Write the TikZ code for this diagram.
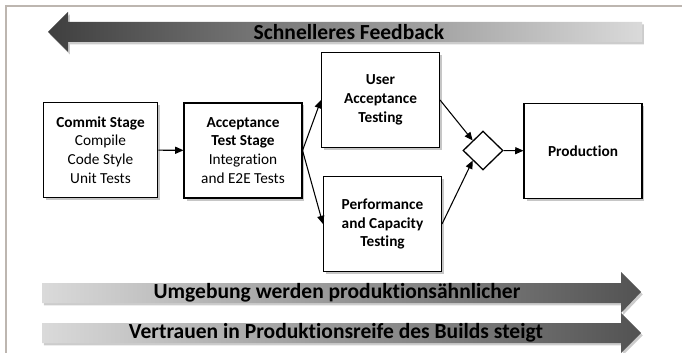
\documentclass[tikz,border=0pt]{standalone}
\usepackage{fontspec}
\setmainfont{Carlito}[Ligatures=NoCommon]
\usepackage{tikz}
\usetikzlibrary{arrows.meta,shapes.geometric,shadows}

\definecolor{framegray}{HTML}{BDB6B0}
\definecolor{arrowdark}{HTML}{3F3F3F}
\definecolor{arrowlight}{HTML}{DADADA}

\tikzset{
  stagebox/.style={draw, line width=1.2pt, fill=white, align=center,
    minimum width=100pt, minimum height=81pt, inner sep=2pt,
    font=\fontsize{13}{16}\selectfont,
    drop shadow={opacity=0.45, shadow xshift=2pt, shadow yshift=-2pt}},
  joinbox/.style={draw, diamond, line width=1.1pt, fill=white, inner sep=0pt,
    minimum width=34pt, minimum height=33pt},
  flow/.style={line width=0.9pt, -{Triangle[length=7pt,width=6pt]}},
  bigarrow/.style={drop shadow={opacity=0.4, shadow xshift=1.5pt, shadow yshift=-2pt}},
  arrowtext/.style={font=\fontsize{18.3}{20}\selectfont\bfseries, inner sep=0pt}
}

\begin{document}
\begin{tikzpicture}[x=0.85pt, y=-0.85pt]
\useasboundingbox (0,0) rectangle (682,353);
% frame
\draw[framegray, line width=1.7pt] (682,6) -- (6,6) -- (6,353);

% big arrows
\shade[bigarrow, left color=arrowdark, right color=arrowlight]
(48,32) -- (68,12) -- (68,22) -- (642,22) -- (642,42) -- (68,42) -- (68,52) -- cycle;
\shade[bigarrow, left color=arrowlight, right color=arrowdark!90]
(42,283) -- (621,283) -- (621,272) -- (641,292) -- (621,313) -- (621,303) -- (42,303) -- cycle;
\shade[bigarrow, left color=arrowlight, right color=arrowdark!90]
(42,323) -- (621,323) -- (621,313) -- (641,333) -- (621,353) -- (621,343) -- (42,343) -- cycle;
\node[arrowtext] (feedback) at (349,32) {Schnelleres Feedback};
\node[arrowtext] (umgebung) at (337,293) {Umgebung werden produktionsähnlicher};
\node[arrowtext] (vertrauen) at (336,333) {Vertrauen in Produktionsreife des Builds steigt};

% stages
\node[stagebox, minimum width=97pt] (commit) at (100.5,150)
  {\textbf{Commit Stage}\\Compile\\Code Style\\Unit Tests};
\node[stagebox] (accept) at (243,150.5)
  {\textbf{Acceptance}\\\textbf{Test Stage}\\Integration\\and E2E Tests};
\node[stagebox, font=\fontsize{13}{16}\selectfont\bfseries] (uat) at (380.5,100)
  {User\\Acceptance\\Testing};
\node[stagebox, font=\fontsize{13}{16}\selectfont\bfseries] (perf) at (382.5,224)
  {Performance\\and Capacity\\Testing};
\node[joinbox] (join) at (483,150.5) {};
\node[stagebox, font=\fontsize{13}{16}\selectfont\bfseries] (prod) at (583,151)
  {Production};

% connectors
\draw[flow] (commit) -- (accept);
\draw[flow] (accept.east) -- (uat.west);
\draw[flow] (accept.east) -- (perf.west);
\draw[flow] (uat.east) -- (join.north west);
\draw[flow] (perf.east) -- (join.south west);
\draw[flow] (join) -- (prod);
\end{tikzpicture}
\end{document}
